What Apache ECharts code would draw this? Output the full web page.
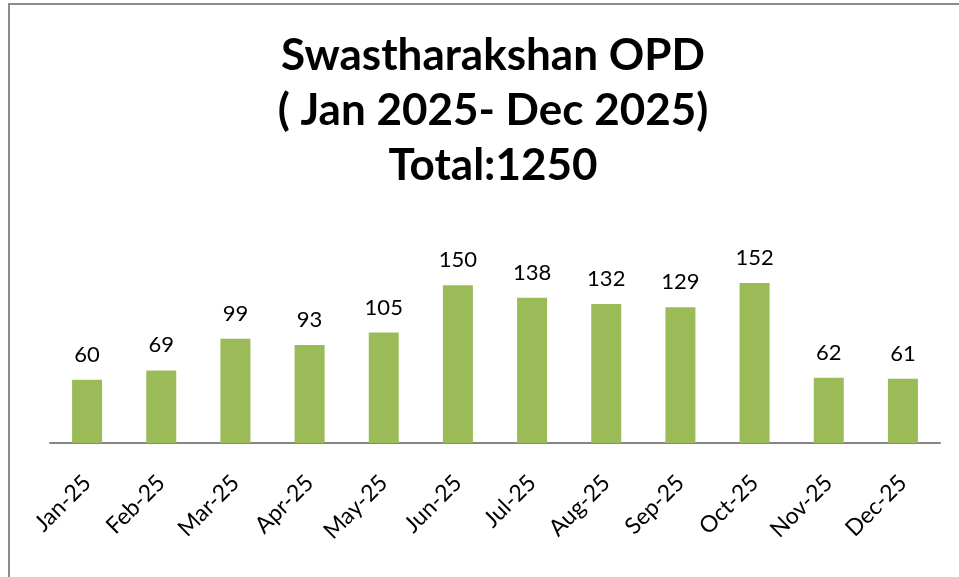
<!DOCTYPE html>
<html>
<head>
<meta charset="utf-8">
<script src="https://cdn.jsdelivr.net/npm/echarts@6/dist/echarts.min.js"></script>
<style>
  html, body { margin: 0; padding: 0; background: #fff; }
  #chart { width: 959px; height: 577px; }
</style>
</head>
<body>
<div id="chart"></div>
<script>
// months and monthly OPD counts
var months = ['Jan-25', 'Feb-25', 'Mar-25', 'Apr-25', 'May-25', 'Jun-25',
              'Jul-25', 'Aug-25', 'Sep-25', 'Oct-25', 'Nov-25', 'Dec-25'];
var opdCounts = [60, 69, 99, 93, 105, 150, 138, 132, 129, 152, 62, 61];
var titleLines = ['Swastharakshan OPD', '( Jan 2025- Dec 2025)', 'Total:1250'];

var chart = echarts.init(document.getElementById('chart'));
var option = {
  backgroundColor: '#fff',
  animation: false,
  title: {
    text: titleLines.join('\n'),
    left: 488,
    textAlign: 'center',
    top: 23,
    textStyle: {
      fontFamily: 'Lato',
      fontWeight: 'bold',
      fontSize: 44,
      lineHeight: 55,
      color: '#000'
    }
  },
  graphic: [{
    type: 'rect',
    shape: { x: 9, y: 4, width: 1000, height: 1000 },
    style: { fill: 'none', stroke: '#8c8c8c', lineWidth: 2 }
  }],
  grid: {
    left: 50,
    right: 19,
    top: 274.6,
    bottom: 134
  },
  xAxis: {
    type: 'category',
    data: months,
    axisLine: { lineStyle: { color: '#868686', width: 2 } },
    axisTick: { show: false },
    axisLabel: {
      rotate: 45,
      interval: 0,
      margin: 36,
      color: '#000',
      fontFamily: 'Lato',
      fontSize: 23
    }
  },
  yAxis: {
    type: 'value',
    min: 0,
    max: 160,
    show: false,
    splitLine: { show: false }
  },
  series: [{
    type: 'bar',
    data: opdCounts,
    barWidth: 30,
    itemStyle: { color: '#9bbb59' },
    label: {
      show: true,
      position: 'top',
      distance: 14,
      color: '#000',
      fontFamily: 'Lato',
      fontSize: 22
    }
  }]
};
chart.setOption(option);
</script>
</body>
</html>
